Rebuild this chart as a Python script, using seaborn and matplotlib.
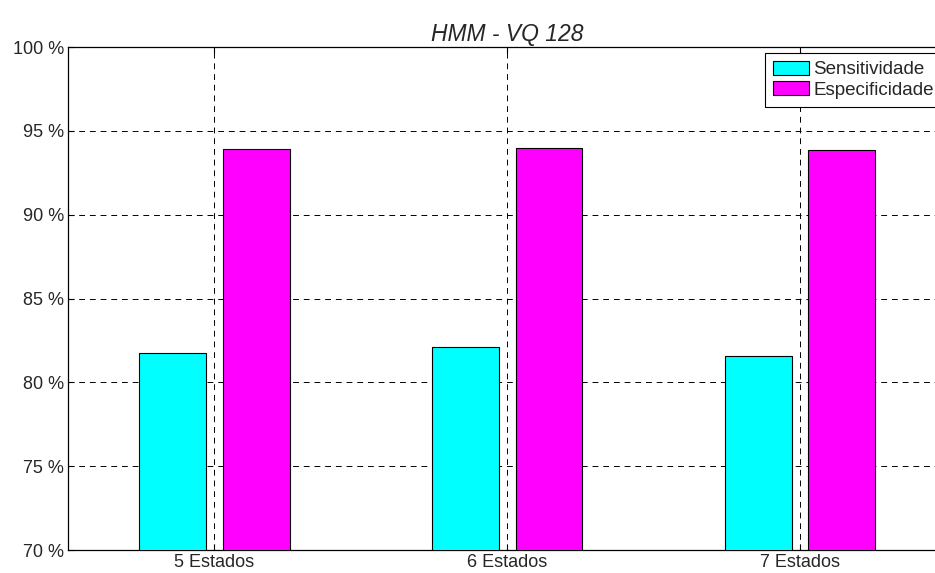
import matplotlib
matplotlib.use("Agg")
import matplotlib.pyplot as plt
import seaborn as sns
import pandas as pd

categories = ["5 Estados", "6 Estados", "7 Estados"]
sensitividade = [81.75, 82.1, 81.55]
especificidade = [93.9, 94.0, 93.85]
series_names = ["Sensitividade", "Especificidade"]
y_ticks = [70, 75, 80, 85, 90, 95, 100]
y_tick_labels = ["70 %", "75 %", "80 %", "85 %", "90 %", "95 %", "100 %"]
title = "HMM - VQ 128"

df = pd.DataFrame({
    "cat": categories * 2,
    "serie": [series_names[0]] * 3 + [series_names[1]] * 3,
    "val": sensitividade + especificidade,
})

sns.set_style("white")
plt.rcParams["font.family"] = ["Liberation Sans", "DejaVu Sans"]

fig = plt.figure(figsize=(9.35, 5.73), dpi=100)
ax = fig.add_axes([68 / 935, 1 - 550 / 573, (946.5 - 68) / 935, (550 - 47) / 573])

sns.barplot(data=df, x="cat", y="val", hue="serie", hue_order=series_names,
            palette=["#00ffff", "#ff00ff"], width=0.57, gap=0.2,
            edgecolor="black", linewidth=0.8, saturation=1, ax=ax, zorder=3)

ax.set_xlim(-0.5, 2.5)
ax.set_ylim(70, 100)
ax.set_yticks(y_ticks)
ax.set_yticklabels(y_tick_labels, fontsize=13)
ax.set_xticks(range(len(categories)))
ax.set_xticklabels(categories, fontsize=13)
ax.set_xlabel("")
ax.set_ylabel("")
ax.set_title(title, fontsize=16.5, style="italic", pad=4)

ax.grid(True, color="black", linestyle=(0, (6, 5)), linewidth=0.7, zorder=1)
ax.set_axisbelow(True)
for s in ax.spines.values():
    s.set_color("black")
    s.set_linewidth(0.9)
    s.set_visible(True)
ax.tick_params(direction="in", length=4, width=0.8, color="black",
               top=True, right=True, left=True, bottom=True, pad=3)

leg = ax.legend(loc="upper left", bbox_to_anchor=((765 - 68) / (946.5 - 68), 1 - 6.3 / 503),
                fontsize=13.5,
                frameon=True, fancybox=False, edgecolor="black", framealpha=1,
                handlelength=1.95, handleheight=0.72, handletextpad=0.2,
                borderpad=0.42, labelspacing=0.16, borderaxespad=0)
leg.get_frame().set_linewidth(0.8)

fig.savefig("out.png", dpi=100)
